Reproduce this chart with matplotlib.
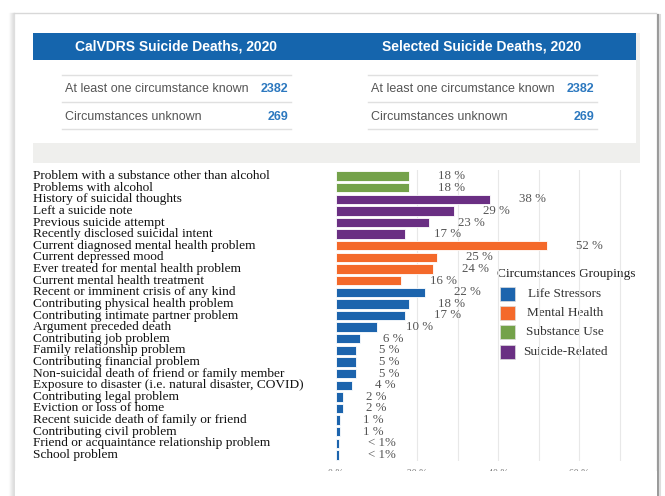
import numpy as np
import matplotlib
matplotlib.use("Agg")
import matplotlib.pyplot as plt
from matplotlib.patches import Rectangle
from matplotlib.lines import Line2D
import matplotlib.transforms as mtrans

# data
categories = [
    "Problem with a substance other than alcohol",
    "Problems with alcohol",
    "History of suicidal thoughts",
    "Left a suicide note",
    "Previous suicide attempt",
    "Recently disclosed suicidal intent",
    "Current diagnosed mental health problem",
    "Current depressed mood",
    "Ever treated for mental health problem",
    "Current mental health treatment",
    "Recent or imminent crisis of any kind",
    "Contributing physical health problem",
    "Contributing intimate partner problem",
    "Argument preceded death",
    "Contributing job problem",
    "Family relationship problem",
    "Contributing financial problem",
    "Non-suicidal death of friend or family member",
    "Exposure to disaster (i.e. natural disaster, COVID)",
    "Contributing legal problem",
    "Eviction or loss of home",
    "Recent suicide death of family or friend",
    "Contributing civil problem",
    "Friend or acquaintance relationship problem",
    "School problem",
]
values = [18, 18, 38, 29, 23, 17, 52, 25, 24, 16, 22, 18, 17, 10, 6, 5, 5, 5, 4,
          1.7, 1.7, 1.0, 1.0, 0.8, 0.8]
value_labels = ["18 %", "18 %", "38 %", "29 %", "23 %", "17 %", "52 %", "25 %",
                "24 %", "16 %", "22 %", "18 %", "17 %", "10 %", "6 %", "5 %",
                "5 %", "5 %", "4 %", "2 %", "2 %", "1 %", "1 %", "< 1%", "< 1%"]
groups = ["Substance Use"] * 2 + ["Suicide-Related"] * 4 + ["Mental Health"] * 4 + \
         ["Life Stressors"] * 15
group_order = ["Life Stressors", "Mental Health", "Substance Use", "Suicide-Related"]
group_colors = {"Life Stressors": "#1c64ad", "Mental Health": "#f4692a",
                "Substance Use": "#74a24a", "Suicide-Related": "#6a2f83"}

table_titles = ["CalVDRS Suicide Deaths, 2020", "Selected Suicide Deaths, 2020"]
table_rows = ["At least one circumstance known", "Circumstances unknown"]
table_counts = [[2382, 269], [2382, 269]]

x_ticks = [0, 20, 40, 60]
x_ticklabels = ["0 %", "20 %", "40 %", "60 %"]

W, H = 665, 496
def fx(px):
    return px / W
def fy(py):
    return 1 - py / H

fig = plt.figure(figsize=(W / 100, H / 100), dpi=100)
fig.patch.set_facecolor("white")

# card with a soft shadow (left side stronger, top faint)
for k in range(1, 7):
    fig.add_artist(Line2D([fx(14.5 - k), fx(14.5 - k)], [fy(13), 0], transform=fig.transFigure,
                          color="black", lw=1, alpha=0.13 - 0.02 * k, zorder=-5))
fig.add_artist(Line2D([fx(14), fx(656)], [fy(13), fy(13)], transform=fig.transFigure,
                      color="#d8d8d8", lw=1, zorder=-5))
fig.add_artist(Line2D([fx(658), fx(658)], [fy(15), 0], transform=fig.transFigure,
                      color="#9a9a9a", lw=1.6, zorder=-5))
fig.add_artist(Line2D([fx(660), fx(660)], [fy(15), 0], transform=fig.transFigure,
                      color="#dddddd", lw=1.5, zorder=-5))

# top summary panel
fig.add_artist(Rectangle((fx(636), fy(163)), fx(4), 130 / H, transform=fig.transFigure,
                         facecolor="#efefed", edgecolor="none", zorder=-4))
fig.add_artist(Rectangle((fx(33), fy(163)), fx(607), 20 / H, transform=fig.transFigure,
                         facecolor="#efefed", edgecolor="none", zorder=-4))
fig.add_artist(Rectangle((fx(33), fy(60)), fx(603), 27 / H, transform=fig.transFigure,
                         facecolor="#1565ad", edgecolor="none", zorder=-4))

sans = ["Liberation Sans", "DejaVu Sans"]
col_left = [62, 368]
for j, title in enumerate(table_titles):
    cx = col_left[j] + 114
    fig.text(fx(cx), fy(46.5), title, color="white", fontsize=10, fontweight="bold",
             family=sans, ha="center", va="center")
    x0, x1 = col_left[j], col_left[j] + 229
    for ly in [75, 102, 129]:
        fig.add_artist(Line2D([fx(x0), fx(x1)], [fy(ly), fy(ly)], transform=fig.transFigure,
                              color="#e0e0e0", lw=1))
    for i, row in enumerate(table_rows):
        ry = 89 + i * 27.5
        fig.text(fx(x0 + 3), fy(ry), row, color="#555555", fontsize=9, family=sans,
                 ha="left", va="center")
        fig.text(fx(x1 - 3), fy(ry), str(table_counts[j][i]), color="#2c78bf",
                 fontsize=9, fontweight="bold", family=sans, ha="right", va="center")

# bar chart
serif = ["Liberation Serif", "DejaVu Serif"]
ax = fig.add_axes([fx(336), fy(460.8), fx(640) - fx(336), (460.8 - 170.2) / H])
ax.set_zorder(5)
ax.patch.set_alpha(0)
ypos = np.arange(len(categories))
bar_colors = [group_colors[g] for g in groups]
ax.barh(ypos, values, height=0.8, color=bar_colors, edgecolor="#ffffff", lw=0.6, zorder=2)
ax.set_ylim(len(categories) - 0.5, -0.5)
ax.set_xlim(0, 75)
for gx in range(20, 80, 10):
    ax.axvline(gx, color="#e8e8e8", lw=0.8, zorder=0)
for s in ax.spines.values():
    s.set_visible(False)
ax.set_yticks([])
ax.set_xticks(x_ticks)
ax.set_xticklabels(x_ticklabels, fontsize=7, color="#777777", family=serif)
ax.tick_params(axis="x", length=0, pad=6)

for i, (v, lab) in enumerate(zip(values, value_labels)):
    off = 29 if len(lab) > 3 else 23
    ax.annotate(lab, (v, i), xytext=(off * 0.72, 0), textcoords="offset points",
                ha="left", va="center", fontsize=9.3, color="#555555", family=serif)

trans = mtrans.blended_transform_factory(fig.transFigure, ax.transData)
for i, cat in enumerate(categories):
    ax.text(fx(33), i, cat, transform=trans, ha="left", va="center", fontsize=9.6,
            color="#111111", family=serif)

# legend drawn by hand
fig.text(fx(497), fy(274), "Circumstances Groupings", fontsize=9.6, color="#222222",
         family=serif, ha="left", va="center")
for k, g in enumerate(group_order):
    cy = 294 + k * 19.2
    fig.add_artist(Rectangle((fx(500), fy(cy + 7)), fx(15), 14 / H, transform=fig.transFigure,
                             facecolor=group_colors[g], edgecolor="#dddddd", lw=0.5))
    fig.text(fx(565), fy(cy), g, fontsize=9.5, color="#333333", family=serif,
             ha="center", va="center")

# the screenshot is cut just below the axis labels
fig.add_artist(Rectangle((fx(15), 0), fx(642), (H - 471) / H, transform=fig.transFigure,
                         facecolor="white", edgecolor="none", zorder=10))

fig.savefig("out.png", dpi=100)
